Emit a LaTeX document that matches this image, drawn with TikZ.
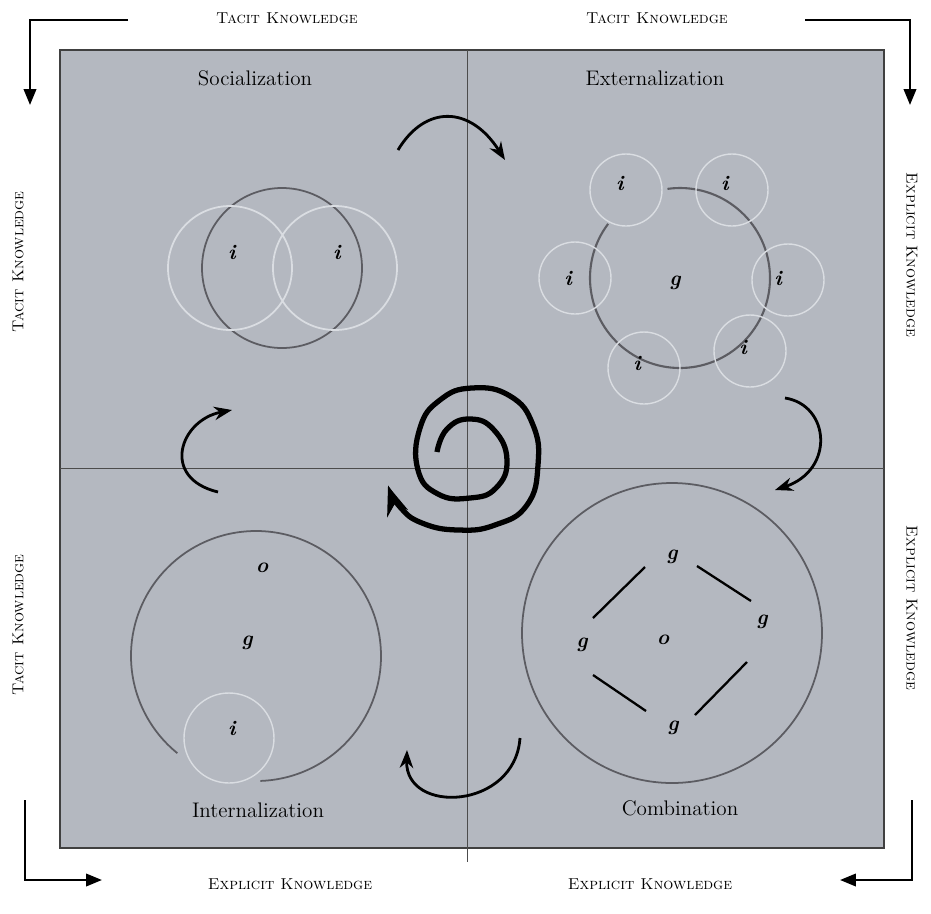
\documentclass[tikz,border=0pt]{standalone}
\usepackage{tikz}
\usetikzlibrary{arrows.meta}
\usepackage{xcolor}
\definecolor{cfond}{RGB}{180,184,192}
\definecolor{cfonce}{RGB}{92,92,98}
\definecolor{cclair}{RGB}{218,221,226}
\newcommand{\lettre}[1]{{\large\bfseries\itshape #1}}

\begin{document}
\begin{tikzpicture}[x=0.02cm, y=0.02cm, >=Stealth]
\useasboundingbox (0,0) rectangle (931,-914);
\fill[cfond] (60,-50) rectangle (884,-848);
\draw[black!75, line width=0.8pt] (60,-50) rectangle (884,-848);
\draw[black!70, line width=0.5pt] (467,-50) -- (467,-862);
\draw[black!70, line width=0.5pt] (60,-468) -- (884,-468);
% titres des quadrants
\node (soc) at (255,-78) {\large Socialization};
\node (ext) at (655,-78) {\large Externalization};
\node (int) at (258,-810) {\large Internalization};
\node (com) at (680,-808) {\large Combination};
% socialisation
\draw[cfonce, line width=1pt] (282,-268) circle (80);
\draw[cclair, line width=1pt] (230,-268) circle (62) (335,-268) circle (62);
\node (si1) at (232,-252) {\lettre{i}};
\node (si2) at (337,-252) {\lettre{i}};
% externalisation
\draw[cfonce, line width=1.2pt] (680,-278) ++(143:90) arc[start angle=143, end angle=458, radius=90];
\foreach \cx/\cy in {626/190,732/190,788/280,750/351,644/368,575/278}
  {\draw[cclair, line width=0.8pt] (\cx,-\cy) circle (36);}
\foreach \lx/\ly in {620/183,725/183,568/278,778/278,743/347,637/363}
  {\node at (\lx,-\ly) {\lettre{i}};}
\node (eg) at (675,-283) {\lettre{g}};
% internalisation
\draw[cfonce, line width=1pt] (256,-656) ++(272:125) arc[start angle=272, end angle=591, radius=125];
\draw[cclair, line width=0.8pt] (229,-738) circle (45);
\node (io) at (262,-568) {\lettre{o}};
\node (ig) at (247,-643) {\lettre{g}};
\node (ii) at (232,-728) {\lettre{i}};
% combinaison
\draw[cfonce, line width=1pt] (672,-633) circle (150);
\node (cg1) at (672,-557) {\lettre{g}};
\node (cg2) at (762,-622) {\lettre{g}};
\node (cg3) at (582,-645) {\lettre{g}};
\node (cg4) at (673,-728) {\lettre{g}};
\node (co) at (663,-640) {\lettre{o}};
\draw[line width=1.3pt] (593,-618) -- (645,-567) (697,-566) -- (751,-601)
  (593,-675) -- (646,-711) (747,-662) -- (695,-715);
% fleches du cycle
\coordinate (h1) at (398,-150); \coordinate (h2) at (505,-160);
\coordinate (d1) at (785,-398); \coordinate (d2) at (775,-490);
\coordinate (b1) at (520,-738); \coordinate (b2) at (407,-750);
\coordinate (g1) at (218,-492); \coordinate (g2) at (232,-410);
\draw[line width=1.6pt,->] (h1) .. controls (425,-105) and (470,-105) .. (h2);
\draw[line width=1.6pt,->] (d1) .. controls (830,-405) and (835,-470) .. (d2);
\draw[line width=1.6pt,->] (b1) .. controls (515,-810) and (405,-815) .. (b2);
\draw[line width=1.6pt,->] (g1) .. controls (160,-478) and (180,-420) .. (g2);
% spirale
\draw[line width=3pt,->] plot[smooth, tension=0.8] coordinates {(437,-452) (447,-429) (470,-419) (494,-430) (507,-460) (496,-488) (470,-498) (438,-494) (418,-470) (420,-428) (440,-400) (472,-388) (510,-396) (533,-425) (538,-465) (527,-505) (495,-525) (458,-530) (422,-523) (400,-507) (388,-486)};
% fleches exterieures
\draw[line width=1.4pt,-{Triangle[length=9pt,width=7pt]}] (128,-20) -- (30,-20) -- (30,-105);
\draw[line width=1.4pt,-{Triangle[length=9pt,width=7pt]}] (805,-20) -- (910,-20) -- (910,-105);
\draw[line width=1.4pt,-{Triangle[length=9pt,width=7pt]}] (25,-800) -- (25,-880) -- (102,-880);
\draw[line width=1.4pt,-{Triangle[length=9pt,width=7pt]}] (912,-800) -- (912,-880) -- (840,-880);
\node (tk1) at (287,-18) {\small\textsc{Tacit Knowledge}};
\node (tk2) at (657,-18) {\small\textsc{Tacit Knowledge}};
\node (ek1) at (290,-884) {\small\textsc{Explicit Knowledge}};
\node (ek2) at (650,-884) {\small\textsc{Explicit Knowledge}};
\node[rotate=90] (tk3) at (18,-262) {\small\textsc{Tacit Knowledge}};
\node[rotate=90] (tk4) at (18,-625) {\small\textsc{Tacit Knowledge}};
\node[rotate=-90] (ek3) at (912,-255) {\small\textsc{Explicit Knowledge}};
\node[rotate=-90] (ek4) at (912,-608) {\small\textsc{Explicit Knowledge}};
\end{tikzpicture}
\end{document}
